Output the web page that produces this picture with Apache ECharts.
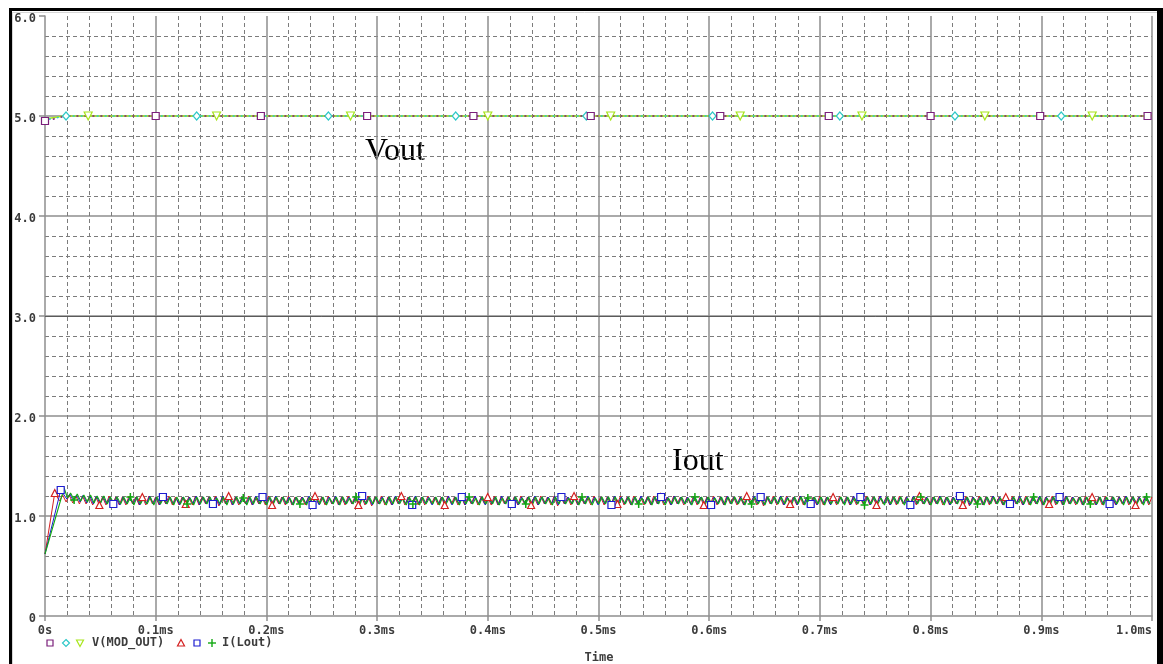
<!DOCTYPE html>
<html>
<head>
<meta charset="utf-8">
<title>Vout / Iout transient</title>
<script src="https://cdn.jsdelivr.net/npm/echarts@6/dist/echarts.min.js"></script>
<style>
  html, body { margin: 0; padding: 0; background: #ffffff; }
  #chart { width: 1163px; height: 664px; }
</style>
</head>
<body>
<div id="chart"></div>
<script>
// ---- axis tick labels ----
const xTickLabels = ['0s', '0.1ms', '0.2ms', '0.3ms', '0.4ms', '0.5ms', '0.6ms', '0.7ms', '0.8ms', '0.9ms', '1.0ms'];
const yTickLabels = ['0', '1.0', '2.0', '3.0', '4.0', '5.0', '6.0'];
const legendLabels = ['V(MOD_OUT)', 'I(Lout)'];
const axisTitle = 'Time';
const annotations = ['Vout', 'Iout'];

// ---- V(MOD_OUT) traces: [time ms, volts] ----
const voutPurple = [[0, 4.95], [0.019, 5.0], [1.0, 5.0]];
const voutPurpleMarks = [[0, 4.95], [0.1, 5.0], [0.195, 5.0], [0.291, 5.0], [0.387, 5.0], [0.493, 5.0], [0.61, 5.0], [0.708, 5.0], [0.8, 5.0], [0.899, 5.0], [0.996, 5.0]];
const voutCyan = [[0, 4.96], [0.019, 5.0], [1.0, 5.0]];
const voutCyanMarks = [[0.019, 5.0], [0.137, 5.0], [0.256, 5.0], [0.371, 5.0], [0.489, 5.0], [0.603, 5.0], [0.718, 5.0], [0.822, 5.0], [0.918, 5.0]];
const voutGreen = [[0, 4.97], [0.017, 5.0], [1.0, 5.0]];
const voutGreenMarks = [[0.039, 5.0], [0.155, 5.0], [0.276, 5.0], [0.40, 5.0], [0.511, 5.0], [0.628, 5.0], [0.738, 5.0], [0.849, 5.0], [0.946, 5.0]];

// ---- I(Lout) traces ----
// start-up points [time ms, amps], then the switching ripple:
// one trough and one peak per switching period, in units of 0.01 A above 1 A
const ripplePeriod = 0.006;   // ms
const rippleRise = 0.0028;    // ms from trough to peak

const ioutRedStart = [[0, 0.62], [0.0045, 0.93], [0.0088, 1.23]];
const ioutRedFirstTrough = 0.0131;
const ioutRedPeaks = [
  21,21,20,20,19,19,19,20,19,19, 20,19,19,20,19,19,20,19,19,19,
  20,19,19,20,19,20,19,19,20,19, 19,20,19,19,20,19,19,19,20,19,
  20,19,19,20,19,19,20,19,20,19, 19,20,19,19,19,20,19,19,20,19,
  20,19,20,19,19,20,19,19,19,20, 19,19,20,19,20,19,19,20,19,19,
  20,19,19,19,20,19,20,19,19,20, 19,19,20,19,19,20,19,19,20,19,
  20,19,19,20,19,19,19,20,19,20, 19,20,19,19,20,19,19,20,19,19,
  19,20,19,20,19,19,20,19,19,20, 19,19,20,19,19,19,20,19,20,19,
  20,19,19,20,19,20,19,19,19,20, 19,20,19,19,20,19,19,20,19,19,
  20,19,19,20,19
];
const ioutRedTroughs = [
  15,14,13,12,12,11,11,11,12,11, 11,12,11,11,12,11,12,11,11,12,
  11,11,12,11,10,12,11,11,12,11, 12,11,11,12,11,11,12,11,11,12,
  11,12,11,11,12,11,11,10,12,11, 11,12,11,12,11,11,12,11,11,12,
  11,11,12,11,12,11,11,12,11,11, 12,11,11,12,11,10,12,11,11,12,
  11,12,11,11,12,11,11,12,11,11, 12,11,11,12,11,12,11,11,12,11,
  11,12,11,11,12,11,10,12,11,11, 12,11,11,12,11,11,12,11,12,11,
  11,12,11,11,12,11,11,12,11,11, 12,11,12,11,11,12,11,10,12,11,
  11,12,11,11,12,11,11,12,11,12, 11,11,12,11,11,12,11,11,12,11,
  12,11,11,12,11
];

const ioutBlueStart = [[0, 0.62], [0.0142, 1.26]];
const ioutBlueFirstTrough = 0.0197;
const ioutBluePeaks = [
  22,21,21,20,20,19,19,19,19,19, 19,19,20,19,19,19,18,19,19,20,
  19,19,19,20,19,19,19,19,20,19, 19,20,19,19,19,19,20,19,19,19,
  20,19,19,19,20,19,19,19,19,20, 19,19,20,19,19,19,19,20,19,19,
  19,20,19,19,19,20,19,19,19,19, 20,19,19,20,19,19,19,19,20,19,
  19,19,20,19,19,19,20,19,19,19, 19,20,19,19,20,19,19,19,19,20,
  19,19,19,20,19,19,19,20,19,19, 20,19,19,19,19,20,19,19,20,19,
  19,19,20,19,19,19,19,20,19,19, 19,20,19,19,20,19,19,19,19,20,
  19,19,19,20,19,19,20,19,19,19, 20,19,19,19,20,19,19,19,19,20,
  19,19,20,19
];
const ioutBlueTroughs = [
  17,15,14,13,12,12,12,12,11,12, 12,11,12,12,11,12,12,11,12,12,
  11,12,12,11,12,11,12,12,11,12, 12,11,12,12,11,12,12,11,11,12,
  12,11,12,12,11,12,11,12,12,11, 12,12,11,12,12,11,12,12,11,12,
  11,12,12,11,12,11,12,12,11,12, 12,11,12,12,11,12,12,11,12,12,
  11,12,11,12,12,11,12,12,11,12, 12,11,12,12,11,12,12,11,12,11,
  12,12,11,12,12,11,12,12,11,12, 11,12,12,11,12,11,12,12,11,12,
  12,11,12,12,11,12,12,11,12,12, 11,12,12,11,12,12,11,12,11,12,
  12,11,12,12,11,12,12,11,12,12, 11,12,12,11,12,11,12,12,11,12,
  12,11,12,12
];

const ioutGreenStart = [[0, 0.62], [0.0173, 1.28]];
const ioutGreenFirstTrough = 0.0203;
const ioutGreenPeaks = [
  23,22,21,21,20,20,19,19,19,19, 19,18,19,19,18,19,19,19,18,19,
  19,19,18,19,19,19,18,19,19,18, 19,19,19,18,19,18,19,19,19,18,
  19,19,18,19,19,19,19,18,19,19, 18,19,19,19,18,19,19,18,19,19,
  19,18,19,19,19,18,19,19,18,19, 19,19,18,19,19,18,19,19,19,18,
  19,19,19,18,19,19,18,19,19,19, 18,19,19,18,19,19,19,18,19,19,
  19,18,19,19,18,19,19,19,18,19, 19,18,19,19,19,18,19,19,18,19,
  19,19,18,19,19,19,18,19,19,18, 19,19,19,18,19,19,18,19,19,19,
  18,19,19,18,19,19,19,18,19,19, 19,18,19,19,18,19,19,19,18,19,
  19,18,19,19
];
const ioutGreenTroughs = [
  18,16,15,14,13,13,12,12,12,12, 11,12,12,11,12,12,11,12,12,11,
  12,12,11,12,11,12,12,11,12,12, 11,12,12,12,11,12,11,12,12,11,
  12,11,12,12,11,12,12,12,11,12, 12,11,12,11,12,12,11,12,12,11,
  12,12,11,12,12,11,12,11,12,12, 11,12,12,11,12,12,12,11,12,11,
  12,12,11,12,12,11,12,12,11,12, 11,12,12,12,11,12,11,12,12,11,
  12,12,11,12,12,11,12,12,12,11, 12,11,12,12,11,12,12,11,12,12,
  11,12,12,11,12,12,11,12,12,12, 11,12,11,12,12,11,12,12,11,12,
  12,11,12,12,12,11,12,11,12,12, 11,12,12,11,12,12,11,12,12,11,
  12,12,11,12
];

// ---- colours ----
const C = {
  purple: '#7a1f7a',
  cyan: '#2ec8c8',
  ygreen: '#a8e61c',
  red: '#d42020',
  blue: '#1c1cd0',
  green: '#12a812',
  text: '#3c3c3c',
  major: '#8e8e8e',
  minor: '#7c7c7c'
};

const plusPath = 'path://M4,0L4,8M0,4L8,4';

// merge a trace with its marker points, flagging the markers
function withMarks(trace, marks) {
  const pts = trace.map(p => ({ value: p, mark: false }));
  marks.forEach(m => {
    const hit = pts.find(p => Math.abs(p.value[0] - m[0]) < 1e-9);
    if (hit) hit.mark = true; else pts.push({ value: m, mark: true });
  });
  pts.sort((a, b) => a.value[0] - b.value[0]);
  return pts.map(p => p.mark ? { value: p.value } : { value: p.value, symbol: 'none' });
}

// start-up points followed by trough/peak pairs
function ripple(start, firstTrough, peaks, troughs) {
  const pts = start.slice();
  const n = Math.min(peaks.length, troughs.length);
  for (let i = 0; i < n; i++) {
    const tT = firstTrough + i * ripplePeriod;
    const tP = tT + rippleRise;
    if (tT <= 1.0) pts.push([tT, 1 + troughs[i] / 100]);
    if (tP <= 1.0) pts.push([tP, 1 + peaks[i] / 100]);
  }
  return pts;
}

// markers every `stride` points starting at `first`
function strideMarks(pts, first, stride) {
  return pts.map((p, i) => (i >= first && (i - first) % stride === 0) ? { value: p } : { value: p, symbol: 'none' });
}

const redPts = ripple(ioutRedStart, ioutRedFirstTrough, ioutRedPeaks, ioutRedTroughs);
const bluePts = ripple(ioutBlueStart, ioutBlueFirstTrough, ioutBluePeaks, ioutBlueTroughs);
const greenPts = ripple(ioutGreenStart, ioutGreenFirstTrough, ioutGreenPeaks, ioutGreenTroughs);

function hollow(color) {
  return { color: '#ffffff', borderColor: color, borderWidth: 1.2 };
}

const baseLine = {
  type: 'line',
  animation: false,
  showSymbol: true,
  showAllSymbol: true,
  silent: true,
  z: 3
};

const series = [
  Object.assign({}, baseLine, {
    name: 'vg',
    data: withMarks(voutGreen, voutGreenMarks),
    symbol: 'triangle', symbolRotate: 180, symbolSize: 8,
    lineStyle: { color: C.ygreen, width: 1.5 },
    itemStyle: hollow(C.ygreen),
    markLine: {
      silent: true, symbol: ['none', 'none'], label: { show: false },
      lineStyle: { color: '#5a5a5a', type: 'solid', width: 1 },
      data: [{ yAxis: 3 }]
    }
  }),
  Object.assign({}, baseLine, {
    name: 'vc',
    data: withMarks(voutCyan, voutCyanMarks),
    symbol: 'diamond', symbolSize: [7, 8],
    lineStyle: { color: C.cyan, width: 1.5, type: [2, 6], dashOffset: 4 },
    itemStyle: hollow(C.cyan)
  }),
  Object.assign({}, baseLine, {
    name: 'vp',
    data: withMarks(voutPurple, voutPurpleMarks),
    symbol: 'rect', symbolSize: 7,
    lineStyle: { color: C.purple, width: 1.5, type: [2, 6] },
    itemStyle: hollow(C.purple)
  }),
  Object.assign({}, baseLine, {
    name: 'ir',
    data: strideMarks(redPts, 2, 13),
    symbol: 'triangle', symbolSize: 7,
    lineStyle: { color: C.red, width: 1 },
    itemStyle: hollow(C.red)
  }),
  Object.assign({}, baseLine, {
    name: 'ib',
    data: strideMarks(bluePts, 1, 15),
    symbol: 'rect', symbolSize: 7,
    lineStyle: { color: C.blue, width: 1 },
    itemStyle: hollow(C.blue)
  }),
  Object.assign({}, baseLine, {
    name: 'ig',
    data: strideMarks(greenPts, 4, 17),
    symbol: plusPath, symbolSize: 8,
    lineStyle: { color: C.green, width: 1.1 },
    itemStyle: { color: 'none', borderColor: C.green, borderWidth: 1.5 }
  })
];

const labelFont = { fontFamily: 'DejaVu Sans Mono', fontWeight: 'bold', fontSize: 12, color: C.text };

// legend row and frame drawn as graphics
const LY = 643;
const monoFont = 'bold 12px "DejaVu Sans Mono"';
const graphic = [
  { type: 'rect', shape: { x: 9, y: 8, width: 1154, height: 3 }, style: { fill: '#000' }, silent: true, z: -1 },
  { type: 'rect', shape: { x: 9, y: 8, width: 3, height: 656 }, style: { fill: '#000' }, silent: true, z: -1 },
  { type: 'rect', shape: { x: 1157, y: 8, width: 6, height: 656 }, style: { fill: '#000' }, silent: true, z: -1 },
  { type: 'line', shape: { x1: 12, y1: 12.5, x2: 1157, y2: 12.5 }, style: { stroke: '#d6d6d6', lineWidth: 1 }, silent: true, z: -1 },
  { type: 'line', shape: { x1: 12.5, y1: 12, x2: 12.5, y2: 664 }, style: { stroke: '#d6d6d6', lineWidth: 1 }, silent: true, z: -1 },

  { type: 'rect', shape: { x: 47, y: LY - 3, width: 6, height: 6 }, style: { fill: '#fff', stroke: C.purple, lineWidth: 1.2 }, silent: true },
  { type: 'polygon', shape: { points: [[66, LY - 3.5], [69.5, LY], [66, LY + 3.5], [62.5, LY]] }, style: { fill: '#fff', stroke: C.cyan, lineWidth: 1.2 }, silent: true },
  { type: 'polygon', shape: { points: [[76.5, LY - 3], [83.5, LY - 3], [80, LY + 3.5]] }, style: { fill: '#fff', stroke: C.ygreen, lineWidth: 1.2 }, silent: true },
  { type: 'text', x: 92, y: LY, style: { text: legendLabels[0], textVerticalAlign: 'middle', textAlign: 'left', fill: C.text, font: monoFont }, silent: true },
  { type: 'polygon', shape: { points: [[181, LY - 3.5], [184.5, LY + 3], [177.5, LY + 3]] }, style: { fill: '#fff', stroke: C.red, lineWidth: 1.2 }, silent: true },
  { type: 'rect', shape: { x: 194, y: LY - 3, width: 6, height: 6 }, style: { fill: '#fff', stroke: C.blue, lineWidth: 1.2 }, silent: true },
  { type: 'line', shape: { x1: 212, y1: LY - 4, x2: 212, y2: LY + 4 }, style: { stroke: C.green, lineWidth: 1.4 }, silent: true },
  { type: 'line', shape: { x1: 208, y1: LY, x2: 216, y2: LY }, style: { stroke: C.green, lineWidth: 1.4 }, silent: true },
  { type: 'text', x: 222, y: LY, style: { text: legendLabels[1], textVerticalAlign: 'middle', textAlign: 'left', fill: C.text, font: monoFont }, silent: true },

  { type: 'text', x: 599, y: 658, style: { text: axisTitle, textVerticalAlign: 'middle', textAlign: 'center', fill: C.text, font: monoFont }, silent: true },

  { type: 'text', x: 365, y: 152, style: { text: annotations[0], textVerticalAlign: 'middle', textAlign: 'left', fill: '#000', font: '32px "Liberation Serif"' }, silent: true },
  { type: 'text', x: 672, y: 462, style: { text: annotations[1], textVerticalAlign: 'middle', textAlign: 'left', fill: '#000', font: '32px "Liberation Serif"' }, silent: true }
];

const option = {
  animation: false,
  backgroundColor: '#ffffff',
  grid: { left: 45, right: 11, top: 16, bottom: 48, containLabel: false },
  xAxis: {
    type: 'value', min: 0, max: 1.0, interval: 0.1,
    axisLine: { show: true, lineStyle: { color: C.major, width: 1.5 } },
    axisTick: { show: true, inside: false, length: 5, lineStyle: { color: C.major, width: 1.5 } },
    axisLabel: Object.assign({ margin: 9, alignMaxLabel: 'right', formatter: v => xTickLabels[Math.round(v * 10)] }, labelFont),
    splitLine: { show: true, showMinLine: false, showMaxLine: true, lineStyle: { color: C.major, width: 1.5 } },
    minorTick: { show: false, splitNumber: 5 },
    minorSplitLine: { show: true, lineStyle: { color: C.minor, width: 1, type: [4, 3] } }
  },
  yAxis: {
    type: 'value', min: 0, max: 6, interval: 1,
    axisLine: { show: true, lineStyle: { color: C.major, width: 1.5 } },
    axisTick: { show: true, inside: false, length: 6, lineStyle: { color: C.major, width: 1.5 } },
    axisLabel: {
      margin: 9,
      formatter: v => '{t|' + yTickLabels[Math.round(v)] + '}',
      rich: { t: Object.assign({ padding: [6, 0, 0, 0] }, labelFont) }
    },
    splitLine: { show: true, showMinLine: false, showMaxLine: false, lineStyle: { color: C.major, width: 1.5 } },
    minorTick: { show: false, splitNumber: 5 },
    minorSplitLine: { show: true, lineStyle: { color: C.minor, width: 1, type: [4, 3] } }
  },
  series: series,
  graphic: graphic
};

const chart = echarts.init(document.getElementById('chart'), null, { renderer: 'canvas' });
chart.setOption(option);
</script>
</body>
</html>
